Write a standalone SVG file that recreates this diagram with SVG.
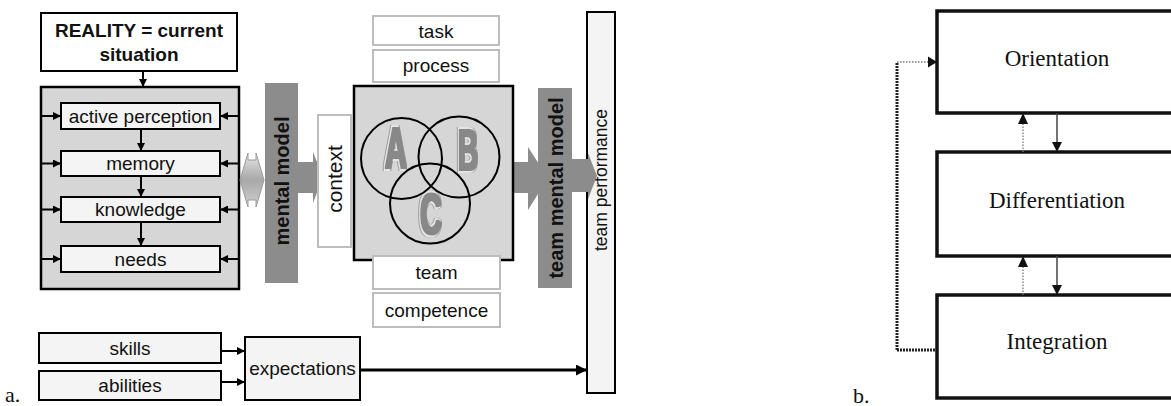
<svg xmlns="http://www.w3.org/2000/svg" width="1171" height="406" viewBox="0 0 1171 406">
<defs>
<style>
.box{fill:#f4f4f4;stroke:#000;stroke-width:2}
.grey{fill:#d6d6d6;stroke:#000;stroke-width:2.5}
.wbox{fill:#fff;stroke:#bdbdbd;stroke-width:2}
.bar{fill:#8c8c8c}
.lbl{font-family:"Liberation Sans",Arial,sans-serif;font-size:19px;fill:#111;text-anchor:middle}
.bold{font-weight:bold}
.conn{stroke:#000;stroke-width:2;fill:none}
.big{font-family:"Liberation Sans",Arial,sans-serif;font-weight:bold;font-size:58px;fill:#8a8a8a;text-anchor:middle;filter:url(#heavy)}
.circ{fill:none;stroke:#000;stroke-width:2}
.serif{font-family:"Liberation Serif","Times New Roman",serif;font-size:23px;fill:#111;text-anchor:middle}
.bbox{fill:#fff;stroke:#111;stroke-width:3.5}
.dotthin{stroke:#777;stroke-width:1.3;stroke-dasharray:1.5 1.5;fill:none}
.dotthick{stroke:#222;stroke-width:3;stroke-dasharray:2 1;fill:none}
.solid{stroke:#444;stroke-width:1.5;fill:none}
</style>
<filter id="heavy" x="-20%" y="-20%" width="140%" height="140%">
<feMorphology in="SourceAlpha" operator="dilate" radius="1.3" result="thick"/>
<feFlood flood-color="#888888" result="c1"/>
<feComposite in="c1" in2="thick" operator="in" result="dark"/>
<feMorphology in="SourceAlpha" operator="dilate" radius="2.6" result="thicker"/>
<feOffset in="thicker" dx="-1.5" dy="0" result="off"/>
<feFlood flood-color="#e4e4e4" result="c2"/>
<feComposite in="c2" in2="off" operator="in" result="light"/>
<feMorphology in="SourceAlpha" operator="dilate" radius="3.4" result="thickest"/>
<feOffset in="thickest" dx="-1.5" dy="0" result="off2"/>
<feFlood flood-color="#9a9a9a" result="c3"/>
<feComposite in="c3" in2="off2" operator="in" result="rim"/>
<feMerge><feMergeNode in="rim"/><feMergeNode in="light"/><feMergeNode in="dark"/></feMerge>
</filter>
<marker id="ah" viewBox="0 0 10 10" refX="10" refY="5" markerWidth="8" markerHeight="8" markerUnits="userSpaceOnUse" orient="auto">
<path d="M0,0 L10,5 L0,10 z" fill="#000"/>
</marker>
<marker id="ah2" viewBox="0 0 10 10" refX="10" refY="5" markerWidth="11" markerHeight="11" markerUnits="userSpaceOnUse" orient="auto">
<path d="M0,0 L10,5 L0,10 z" fill="#000"/>
</marker>
<linearGradient id="dg" x1="0" y1="0" x2="0" y2="1">
<stop offset="0" stop-color="#e6e6e6"/>
<stop offset="0.5" stop-color="#a8a8a8"/>
<stop offset="1" stop-color="#d0d0d0"/>
</linearGradient>
</defs>

<g id="reality">
<rect class="box" x="41" y="13" width="196" height="58" style="fill:#fff"/>
<text class="lbl bold" x="139" y="37">REALITY = current</text>
<text class="lbl bold" x="139" y="61">situation</text>
</g>

<g id="cognition">
<rect class="grey" x="41" y="87" width="198" height="202"/>
</g>
<g id="active-perception">
<rect class="box" x="61" y="103" width="159" height="26"/>
<text class="lbl" x="140.5" y="123">active perception</text>
</g>
<g id="memory">
<rect class="box" x="61" y="151" width="159" height="25"/>
<text class="lbl" x="140.5" y="170">memory</text>
</g>
<g id="knowledge">
<rect class="box" x="61" y="197" width="159" height="25"/>
<text class="lbl" x="140.5" y="216">knowledge</text>
</g>
<g id="needs">
<rect class="box" x="61" y="246" width="159" height="26"/>
<text class="lbl" x="140.5" y="266">needs</text>
</g>

<g id="double-arrow">
<polygon points="240,180 248,153 248,160 256,160 256,153 264,180 256,207 256,200 248,200 248,207" fill="url(#dg)" stroke="#9a9a9a" stroke-width="1"/>
</g>

<g id="mental-model">
<rect class="bar" x="265" y="83" width="33" height="200"/>
<text class="lbl bold" style="font-size:20px" transform="translate(289,181) rotate(-90)">mental model</text>
</g>

<g id="arrow-mm-context">
<polygon class="bar" points="294,162 313,162 313,152 323,177 313,203 313,193 294,193"/>
</g>

<g id="context">
<rect class="wbox" x="318" y="115" width="33" height="132"/>
<text class="lbl" style="font-size:21px" transform="translate(342,179) rotate(-90)">context</text>
</g>

<g id="task">
<rect class="wbox" x="373" y="16" width="126" height="29"/>
<text class="lbl" x="436" y="38">task</text>
</g>
<g id="process">
<rect class="wbox" x="373" y="50" width="126" height="32"/>
<text class="lbl" x="436" y="72">process</text>
</g>

<g id="arrow-center-tmm">
<polygon class="bar" points="499,162 528,162 528,147 548,178 528,210 528,193 499,193"/>
</g>

<g id="team-space">
<rect class="grey" x="354" y="86" width="159" height="174"/>
<text class="big" transform="translate(396,168) scale(0.52,1)">A</text>
<text class="big" transform="translate(468,170) scale(0.48,1)">B</text>
<text class="big" transform="translate(431,234) scale(0.52,1)">C</text>
<circle class="circ" cx="401.5" cy="158.5" r="40.5"/>
<circle class="circ" cx="459" cy="157" r="40.5"/>
<circle class="circ" cx="430" cy="203.5" r="40"/>
</g>

<g id="team">
<rect class="wbox" x="373" y="256" width="127" height="33"/>
<text class="lbl" x="436.5" y="279">team</text>
</g>
<g id="competence">
<rect class="wbox" x="373" y="293" width="127" height="34"/>
<text class="lbl" x="436.5" y="317">competence</text>
</g>

<g id="team-mental-model">
<rect class="bar" x="538" y="88" width="34" height="200"/>
<text class="lbl bold" style="font-size:20px" transform="translate(563,188) rotate(-90)">team mental model</text>
</g>

<g id="team-performance">
<rect class="box" x="587" y="12" width="28" height="381"/>
<text class="lbl" style="font-size:17.5px" transform="translate(607,180) rotate(-90)">team performance</text>
</g>

<g id="arrow-tmm-tp">
<polygon class="bar" points="570,159 588,159 588,153 597,176 588,199 588,192 570,192"/>
</g>

<g id="skills">
<rect class="box" x="39" y="333" width="182" height="30"/>
<text class="lbl" x="130" y="355">skills</text>
</g>
<g id="abilities">
<rect class="box" x="39" y="371" width="182" height="29"/>
<text class="lbl" x="130" y="392">abilities</text>
</g>
<g id="expectations">
<rect class="box" x="245" y="337" width="115" height="63"/>
<text class="lbl" x="302.5" y="375">expectations</text>
</g>

<g id="connectors-a">
<line class="conn" x1="143" y1="71" x2="143" y2="87" marker-end="url(#ah)"/>
<line class="conn" x1="141" y1="129" x2="141" y2="151" marker-end="url(#ah)"/>
<line class="conn" x1="141" y1="176" x2="141" y2="197" marker-end="url(#ah)"/>
<line class="conn" x1="141" y1="222" x2="141" y2="246" marker-end="url(#ah)"/>
<line class="conn" x1="40" y1="116" x2="61" y2="116" marker-end="url(#ah)"/>
<line class="conn" x1="40" y1="163.5" x2="61" y2="163.5" marker-end="url(#ah)"/>
<line class="conn" x1="40" y1="209.5" x2="61" y2="209.5" marker-end="url(#ah)"/>
<line class="conn" x1="40" y1="259" x2="61" y2="259" marker-end="url(#ah)"/>
<line class="conn" x1="239" y1="116" x2="220" y2="116" marker-end="url(#ah)"/>
<line class="conn" x1="239" y1="163.5" x2="220" y2="163.5" marker-end="url(#ah)"/>
<line class="conn" x1="239" y1="209.5" x2="220" y2="209.5" marker-end="url(#ah)"/>
<line class="conn" x1="239" y1="259" x2="220" y2="259" marker-end="url(#ah)"/>
<line class="conn" x1="221" y1="351" x2="245" y2="351" marker-end="url(#ah)"/>
<line class="conn" x1="221" y1="382" x2="245" y2="382" marker-end="url(#ah)"/>
<line class="conn" style="stroke-width:3" x1="360" y1="370" x2="587" y2="370" marker-end="url(#ah2)"/>
</g>

<text x="5" y="402" style="font-family:'Liberation Serif','Times New Roman',serif;font-size:22px;fill:#111">a.</text>

<g id="orientation">
<rect class="bbox" x="937" y="11" width="250" height="102"/>
<text class="serif" x="1057" y="66">Orientation</text>
</g>
<g id="differentiation">
<rect class="bbox" x="937" y="152" width="250" height="104"/>
<text class="serif" x="1057" y="208">Differentiation</text>
</g>
<g id="integration">
<rect class="bbox" x="937" y="295" width="250" height="103"/>
<text class="serif" x="1057" y="349">Integration</text>
</g>

<g id="connectors-b">
<line class="dotthin" x1="1023" y1="152" x2="1023" y2="123"/>
<polygon points="1018,124 1023,113 1028,124" fill="#111"/>
<line class="solid" x1="1057" y1="113" x2="1057" y2="143"/>
<polygon points="1052,142 1057,152 1062,142" fill="#111"/>
<line class="dotthin" x1="1023" y1="295" x2="1023" y2="266"/>
<polygon points="1018,267 1023,256 1028,267" fill="#111"/>
<line class="solid" x1="1057" y1="256" x2="1057" y2="286"/>
<polygon points="1052,285 1057,295 1062,285" fill="#111"/>
<line class="dotthick" x1="935" y1="350" x2="897" y2="350"/>
<line class="dotthick" x1="897" y1="350" x2="897" y2="63"/>
<line class="dotthin" x1="897" y1="62" x2="929" y2="62"/>
<polygon points="928,56.5 937,62 928,67.5" fill="#111"/>
</g>

<text x="853" y="403" style="font-family:'Liberation Serif','Times New Roman',serif;font-size:22px;fill:#111">b.</text>
</svg>
